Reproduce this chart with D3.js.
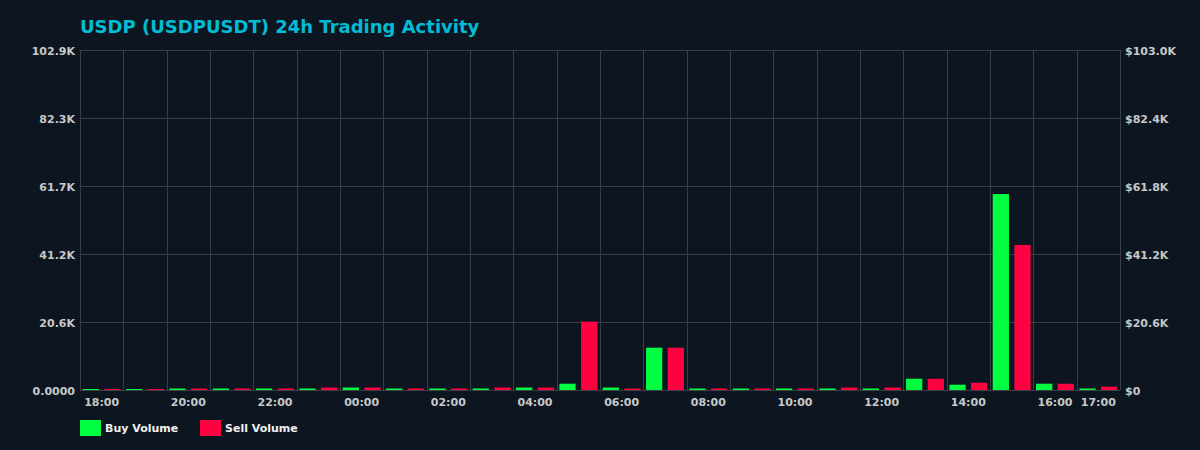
<!DOCTYPE html>
<html>
<head>
<meta charset="utf-8">
<script src="https://cdn.jsdelivr.net/npm/d3@7"></script>
<style>
  html, body { margin: 0; padding: 0; background: #0d1620; }
  svg { display: block; font-family: "DejaVu Sans", sans-serif; }
</style>
</head>
<body>
<svg id="chart" width="1200" height="450"></svg>
<script>
// hourly buckets, last 24h
const hours = ["18:00", "19:00", "20:00", "21:00", "22:00", "23:00", "00:00", "01:00",
  "02:00", "03:00", "04:00", "05:00", "06:00", "07:00", "08:00", "09:00",
  "10:00", "11:00", "12:00", "13:00", "14:00", "15:00", "16:00", "17:00"]

const buyVolume = [300, 300, 450, 450, 450, 450, 750, 450, 450, 450, 750, 1900,
  750, 12800, 450, 450, 450, 450, 450, 3400, 1600, 59300, 1900, 450]

const sellVolume = [300, 300, 450, 450, 450, 750, 750, 450, 450, 750, 750, 20700,
  450, 12800, 450, 450, 450, 750, 750, 3400, 2200, 43900, 1900, 1000]

const volumeMax = 102900   // left axis (token volume)
const usdMax = 103000      // right axis (USD)

const series = [
  { key: "buy", label: "Buy Volume", color: "#00ff41", values: buyVolume },
  { key: "sell", label: "Sell Volume", color: "#ff0040", values: sellVolume },
]

const width = 1200
const height = 450
const margin = { top: 50, right: 80, bottom: 60, left: 80 }
const gridColor = "#3a3f47"
const tickColor = "#c8c8c8"

const svg = d3.select("#chart")

svg.append("rect").attr("width", width).attr("height", height).attr("fill", "#0d1620")

const x = d3.scaleBand()
  .domain(hours)
  .range([margin.left, width - margin.right])
  .paddingInner(0)
  .paddingOuter(0)

const xInner = d3.scaleBand()
  .domain(series.map((s) => s.key))
  .range([0, x.bandwidth()])
  .paddingInner(0.25)
  .paddingOuter(0.125)

const y = d3.scaleLinear().domain([0, volumeMax]).range([height - margin.bottom, margin.top])
const yUsd = d3.scaleLinear().domain([0, usdMax]).range([height - margin.bottom, margin.top])

const fmtVol = (v) => {
  if (v >= 1e6) return (v / 1e6).toFixed(1) + "M"
  if (v >= 1e3) return (v / 1e3).toFixed(1) + "K"
  return v.toFixed(4)
}
const fmtUsd = (v) => {
  if (v === 0) return "$0"
  if (v >= 1e6) return "$" + (v / 1e6).toFixed(1) + "M"
  if (v >= 1e3) return "$" + (v / 1e3).toFixed(1) + "K"
  return "$" + v.toFixed(2)
}

const leftTicks = d3.range(6).map((i) => (volumeMax * i) / 5)
const rightTicks = d3.range(6).map((i) => (usdMax * i) / 5)

// grid
const grid = svg.append("g").attr("stroke", gridColor).attr("stroke-width", 1)
grid.selectAll("line.h")
  .data(leftTicks)
  .join("line")
  .attr("class", "h")
  .attr("x1", margin.left)
  .attr("x2", width - margin.right)
  .attr("y1", (d) => Math.round(y(d)) + 0.5)
  .attr("y2", (d) => Math.round(y(d)) + 0.5)

const vLines = hours.map((h) => x(h)).concat([width - margin.right])
grid.selectAll("line.v")
  .data(vLines)
  .join("line")
  .attr("class", "v")
  .attr("x1", (d) => Math.round(d) + 0.5)
  .attr("x2", (d) => Math.round(d) + 0.5)
  .attr("y1", margin.top)
  .attr("y2", height - margin.bottom)

// bars
const groups = svg.append("g")
  .selectAll("g")
  .data(hours)
  .join("g")
  .attr("transform", (h) => `translate(${x(h)},0)`)

groups.selectAll("rect")
  .data((h, i) => series.map((s) => ({ key: s.key, color: s.color, value: s.values[i] })))
  .join("rect")
  .attr("x", (d) => xInner(d.key))
  .attr("width", xInner.bandwidth())
  .attr("y", (d) => y(d.value))
  .attr("height", (d) => y(0) - y(d.value))
  .attr("fill", (d) => d.color)

// left axis labels
svg.append("g")
  .selectAll("text")
  .data(leftTicks)
  .join("text")
  .attr("x", margin.left - 5)
  .attr("y", (d) => y(d) + 1)
  .attr("dy", "0.35em")
  .attr("text-anchor", "end")
  .attr("fill", tickColor)
  .style("font-size", "11px")
  .style("font-weight", "bold")
  .text(fmtVol)

// right axis labels
svg.append("g")
  .selectAll("text")
  .data(rightTicks)
  .join("text")
  .attr("x", width - margin.right + 5)
  .attr("y", (d) => yUsd(d) + 1)
  .attr("dy", "0.35em")
  .attr("text-anchor", "start")
  .attr("fill", tickColor)
  .style("font-size", "11px")
  .style("font-weight", "bold")
  .text(fmtUsd)

// x labels: every other hour plus the last one
const shown = hours.filter((h, i) => i % 2 === 0 || i === hours.length - 1)
svg.append("g")
  .selectAll("text")
  .data(shown)
  .join("text")
  .attr("x", (h) => x(h) + x.bandwidth() / 2)
  .attr("y", height - margin.bottom + 12)
  .attr("dy", "0.35em")
  .attr("text-anchor", "middle")
  .attr("fill", tickColor)
  .style("font-size", "11px")
  .style("font-weight", "bold")
  .text((h) => h)

// title
svg.append("text")
  .attr("x", margin.left)
  .attr("y", 33)
  .attr("fill", "#00bcd4")
  .style("font-size", "18px")
  .style("font-weight", "bold")
  .text("USDP (USDPUSDT) 24h Trading Activity")

// legend
const legend = svg.append("g")
  .selectAll("g")
  .data(series)
  .join("g")
  .attr("transform", (d, i) => `translate(${margin.left + i * 120},420)`)

legend.append("rect")
  .attr("width", 21)
  .attr("height", 16)
  .attr("fill", (d) => d.color)

legend.append("text")
  .attr("x", 25)
  .attr("y", 8)
  .attr("dy", "0.35em")
  .attr("fill", "#f0f0f0")
  .style("font-size", "11px")
  .style("font-weight", "bold")
  .text((d) => d.label)
</script>
</body>
</html>
